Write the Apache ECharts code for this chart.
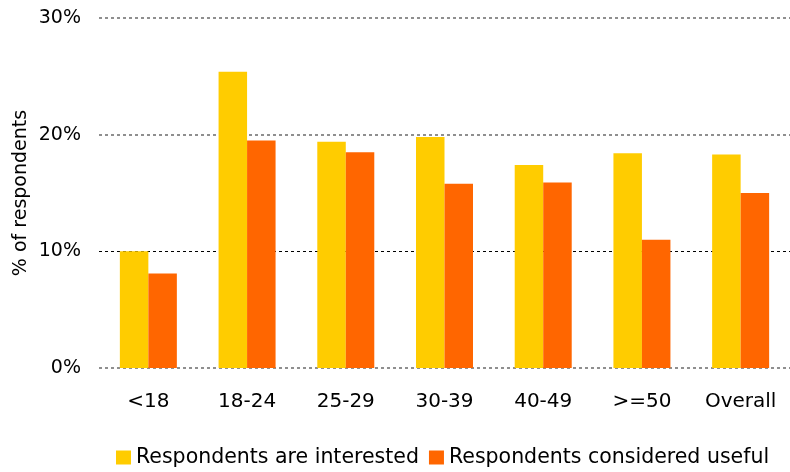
<!DOCTYPE html>
<html>
<head>
<meta charset="utf-8">
<script src="https://cdn.jsdelivr.net/npm/echarts@6/dist/echarts.min.js"></script>
<style>
  html, body { margin: 0; padding: 0; background: #fff; }
  #chart { width: 790px; height: 472px; }
</style>
</head>
<body>
<div id="chart"></div>
<script>
// Age groups on the x axis
const categories = ['<18', '18-24', '25-29', '30-39', '40-49', '>=50', 'Overall'];
// Share of respondents (%)
const interested = [10.0, 25.4, 19.4, 19.8, 17.4, 18.4, 18.3];
const useful = [8.1, 19.5, 18.5, 15.8, 15.9, 11.0, 15.0];
const seriesNames = ['Respondents are interested', 'Respondents considered useful'];
const yTicks = [0, 10, 20, 30];

const FONT = 'DejaVu Sans';
const chart = echarts.init(document.getElementById('chart'), null, { renderer: 'canvas' });

const yBase = {
  type: 'value',
  min: yTicks[0],
  max: yTicks[yTicks.length - 1],
  interval: yTicks[1] - yTicks[0],
  axisLine: { show: false },
  axisTick: { show: false }
};

chart.setOption({
  animation: false,
  backgroundColor: '#ffffff',
  grid: { left: 99, top: 18, width: 698, height: 350, containLabel: false },
  legend: {
    top: 442,
    left: 111,
    itemWidth: 15,
    itemHeight: 14,
    itemGap: 10,
    icon: 'rect',
    data: seriesNames,
    textStyle: { fontFamily: FONT, fontSize: 20.5, color: '#000' }
  },
  xAxis: {
    type: 'category',
    data: categories,
    axisLine: { show: false },
    axisTick: { show: false },
    axisLabel: { fontFamily: FONT, fontSize: 20, color: '#000', margin: 24, interval: 0 }
  },
  yAxis: [
    Object.assign({}, yBase, {
      name: '% of respondents',
      nameLocation: 'middle',
      nameGap: 68,
      nameMoveOverlap: false,
      nameTextStyle: { fontFamily: FONT, fontSize: 19, color: '#000' },
      axisLabel: {
        fontFamily: FONT, fontSize: 19, color: '#000', margin: 18,
        formatter: v => v + '%'
      },
      splitLine: {
        show: true,
        lineStyle: { type: [3, 3], width: 2, color: ['#8f8f8f', 'rgba(0,0,0,0)', '#8f8f8f', '#8f8f8f'] }
      }
    }),
    Object.assign({}, yBase, {
      position: 'left',
      axisLabel: { show: false },
      splitLine: {
        show: true,
        lineStyle: { type: [3, 3], width: 1, color: ['rgba(0,0,0,0)', '#000', 'rgba(0,0,0,0)', 'rgba(0,0,0,0)'] }
      }
    })
  ],
  series: [
    {
      name: seriesNames[0],
      type: 'bar',
      data: interested,
      barWidth: 28.5,
      barGap: '0%',
      itemStyle: { color: '#FFCC00' },
      z: 3
    },
    {
      name: seriesNames[1],
      type: 'bar',
      data: useful,
      barWidth: 28.5,
      barGap: '0%',
      itemStyle: { color: '#FF6600' },
      z: 3
    }
  ]
});
</script>
</body>
</html>
